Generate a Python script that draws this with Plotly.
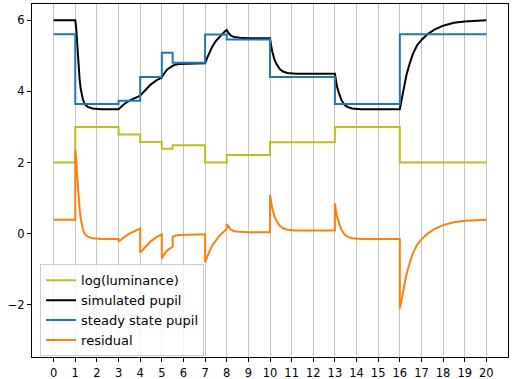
import plotly.graph_objects as go

# --- data ---
step_t = [0, 1, 3, 4, 5, 5.5, 7, 8, 10, 13, 16, 20]
log_lum = [2.0, 3.0, 2.79, 2.58, 2.39, 2.49, 2.0, 2.21, 2.57, 3.0, 2.0, 2.0]
steady = [5.61, 3.65, 3.74, 4.41, 5.09, 4.81, 5.60, 5.46, 4.41, 3.65, 5.61, 5.61]

pupil_t = [0, 1, 1.04, 1.08, 1.12, 1.16, 1.2, 1.25, 1.3, 1.35, 1.45, 1.6, 1.8, 2.2, 3.0,
           3.1, 3.25, 3.5, 3.75, 4.0, 4.1, 4.25, 4.5, 4.75, 5.0, 5.1, 5.25, 5.5,
           5.6, 5.8, 6.2, 7.0, 7.1, 7.2, 7.35, 7.5, 7.65, 7.8, 7.9, 8.0,
           8.1, 8.2, 8.35, 8.6, 9.0, 10.0, 10.05, 10.1, 10.2, 10.3, 10.45, 10.6, 10.8, 11.2, 13.0,
           13.05, 13.1, 13.2, 13.3, 13.45, 13.6, 13.8, 14.2, 16.0,
           16.1, 16.2, 16.3, 16.45, 16.6, 16.8, 17.0, 17.3, 17.6, 18.0, 18.5, 19.0, 19.5, 20.0]
pupil = [6.0, 6.0, 5.80, 5.35, 4.95, 4.62, 4.35, 4.08, 3.90, 3.78, 3.63, 3.56, 3.52, 3.50, 3.50,
         3.56, 3.64, 3.74, 3.82, 3.88, 3.95, 4.05, 4.20, 4.31, 4.39, 4.50, 4.62, 4.72,
         4.75, 4.77, 4.78, 4.79, 4.95, 5.10, 5.28, 5.42, 5.53, 5.62, 5.68, 5.73,
         5.63, 5.57, 5.53, 5.51, 5.50, 5.50, 5.30, 5.13, 4.91, 4.77, 4.63, 4.56, 4.52, 4.50, 4.50,
         4.30, 4.13, 3.93, 3.76, 3.62, 3.56, 3.52, 3.50, 3.50,
         3.80, 4.10, 4.45, 4.77, 5.05, 5.30, 5.45, 5.62, 5.74, 5.85, 5.93, 5.97, 5.99, 6.00]

resid_t = [0, 1, 1, 1.04, 1.08, 1.12, 1.16, 1.2, 1.25, 1.3, 1.35, 1.45, 1.6, 1.8, 2.2, 3.0,
           3.0, 3.1, 3.25, 3.5, 3.75, 4.0,
           4.0, 4.1, 4.25, 4.5, 4.75, 5.0,
           5.0, 5.1, 5.25, 5.5,
           5.5, 5.6, 5.8, 6.2, 7.0,
           7.0, 7.1, 7.2, 7.35, 7.5, 7.65, 7.8, 7.9, 8.0,
           8.0, 8.1, 8.2, 8.35, 8.6, 9.0, 10.0,
           10.0, 10.05, 10.1, 10.2, 10.3, 10.45, 10.6, 10.8, 11.2, 13.0,
           13.0, 13.05, 13.1, 13.2, 13.3, 13.45, 13.6, 13.8, 14.2, 16.0,
           16.0, 16.1, 16.2, 16.3, 16.45, 16.6, 16.8, 17.0, 17.3, 17.6, 18.0, 18.5, 19.0, 19.5, 20.0]
resid = [0.39, 0.39, 2.35, 2.15, 1.70, 1.30, 0.97, 0.70, 0.43, 0.25, 0.13, -0.02, -0.09, -0.13, -0.15, -0.15,
         -0.22, -0.18, -0.10, 0.00, 0.08, 0.14,
         -0.53, -0.46, -0.36, -0.21, -0.10, -0.02,
         -0.70, -0.59, -0.47, -0.37,
         -0.09, -0.06, -0.04, -0.03, -0.02,
         -0.81, -0.65, -0.50, -0.32, -0.18, -0.07, 0.02, 0.08, 0.13,
         0.27, 0.17, 0.11, 0.07, 0.05, 0.04, 0.04,
         1.09, 0.89, 0.72, 0.50, 0.36, 0.22, 0.15, 0.11, 0.09, 0.09,
         0.85, 0.65, 0.48, 0.28, 0.11, -0.03, -0.09, -0.13, -0.15, -0.15,
         -2.11, -1.81, -1.51, -1.16, -0.84, -0.56, -0.31, -0.16, 0.01, 0.13, 0.24, 0.32, 0.36, 0.38, 0.39]

x_ticks = list(range(0, 21))
y_ticks = [-2, 0, 2, 4, 6]

fig = go.Figure()
fig.add_trace(go.Scatter(x=step_t, y=log_lum, mode="lines", line_shape="hv",
                         line=dict(color="#bcbd22", width=2), name="log(luminance)"))
fig.add_trace(go.Scatter(x=pupil_t, y=pupil, mode="lines",
                         line=dict(color="black", width=2), name="simulated pupil"))
fig.add_trace(go.Scatter(x=step_t, y=steady, mode="lines", line_shape="hv",
                         line=dict(color="#1f77b4", width=2), name="steady state pupil"))
fig.add_trace(go.Scatter(x=resid_t, y=resid, mode="lines",
                         line=dict(color="#ff7f0e", width=2), name="residual"))

font = dict(family="DejaVu Sans", size=11.5, color="black")
fig.update_layout(
    width=512, height=379,
    margin=dict(l=32, r=4, t=4, b=22),
    paper_bgcolor="white", plot_bgcolor="white",
    font=font,
    showlegend=True,
    legend=dict(x=0.017, y=0.002, xanchor="left", yanchor="bottom",
                bgcolor="rgba(255,255,255,0.8)", bordercolor="#cccccc", borderwidth=1,
                font=dict(family="DejaVu Sans", size=13, color="black"),
                tracegroupgap=0),
)
fig.update_xaxes(range=[-1, 21], tickmode="array", tickvals=x_ticks,
                 ticktext=[str(v) for v in x_ticks],
                 showgrid=True, gridcolor="#c4c4c4", gridwidth=1,
                 showline=True, linecolor="black", linewidth=1, mirror=True,
                 ticks="outside", ticklen=4, tickcolor="black", zeroline=False,
                 ticklabelstandoff=1, automargin=False)
fig.update_yaxes(range=[-3.47, 6.46], tickmode="array", tickvals=y_ticks,
                 ticktext=["\u22122", "0", "2", "4", "6"],
                 showgrid=False,
                 showline=True, linecolor="black", linewidth=1, mirror=True,
                 ticks="outside", ticklen=4, tickcolor="black", zeroline=False,
                 automargin=False)

fig.write_html("out.html", config={"displayModeBar": False},
               post_script="document.body.style.margin='0';document.body.style.overflow='hidden';")
